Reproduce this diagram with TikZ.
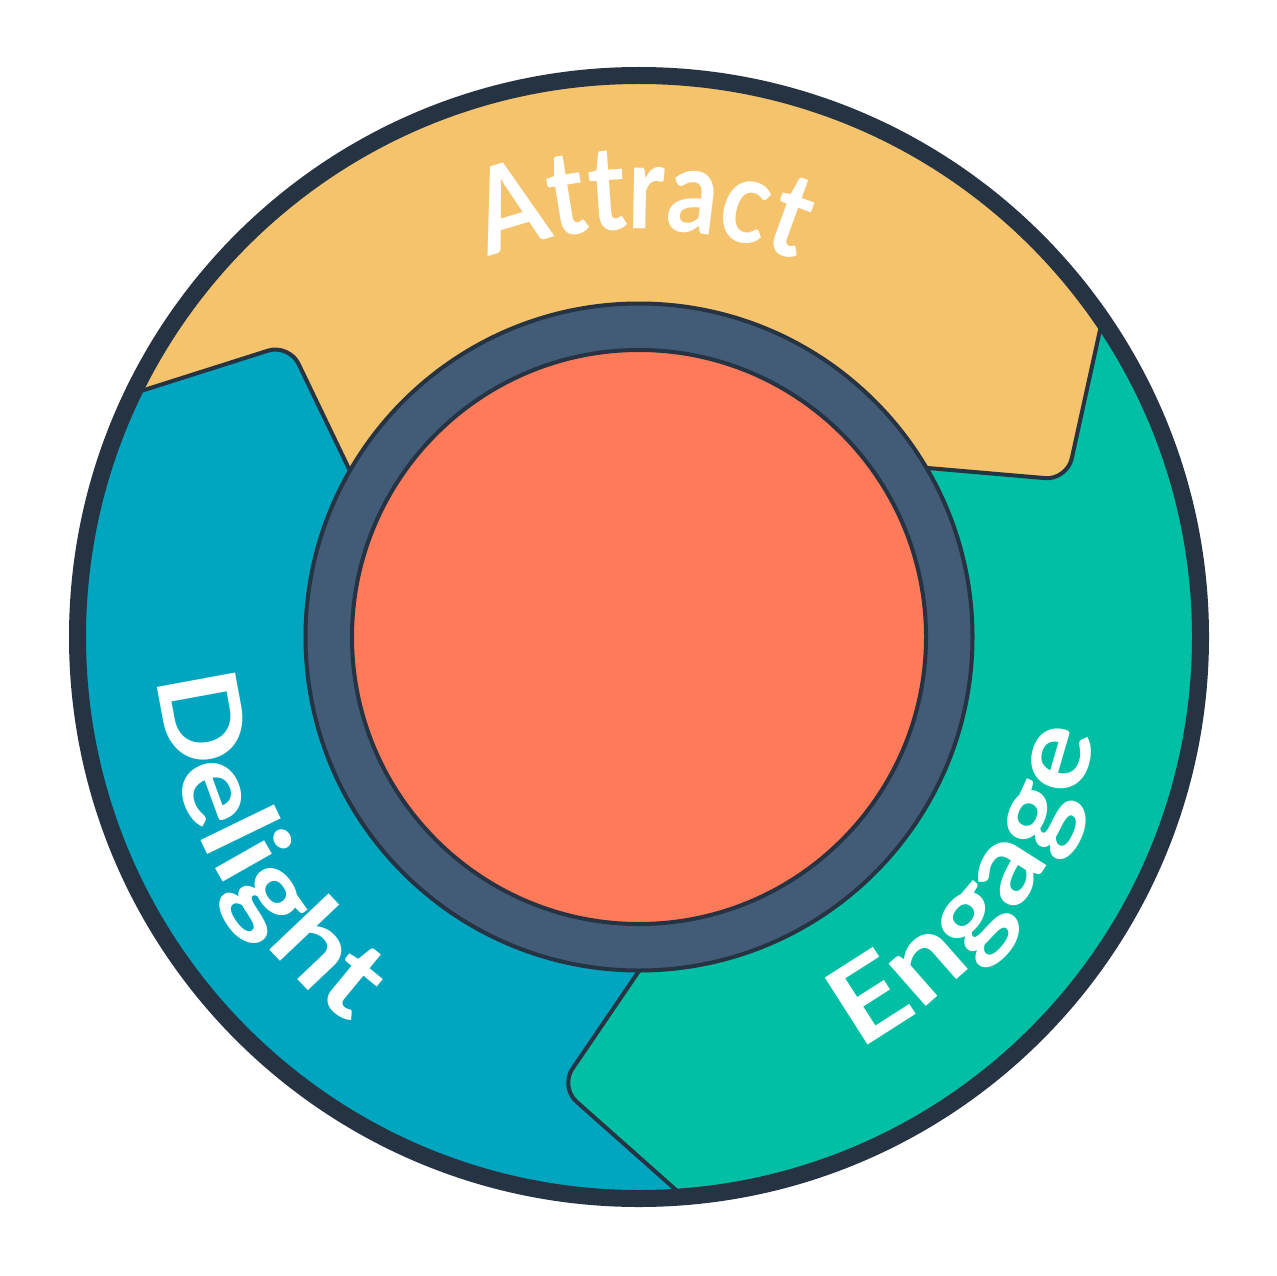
\documentclass[tikz,border=0pt]{standalone}
\usepackage{fontspec}
\usepackage{xcolor}
\usetikzlibrary{decorations.text}
\newfontfamily\flywheelwide[FakeStretch=1.14]{Lato}
\newfontfamily\flywheelnarrow[FakeStretch=0.84]{Lato}
\newcommand{\flywheeltype}[2]{#1\bfseries\fontsize{#2}{#2}\selectfont\color{white}}
\definecolor{rim}{HTML}{253343}
\definecolor{hub}{HTML}{425B76}
\definecolor{core}{HTML}{FF7A59}
\definecolor{attract}{HTML}{F4C36C}
\definecolor{engage}{HTML}{00BFA5}
\definecolor{delight}{HTML}{00A6BF}

\begin{document}
\begin{tikzpicture}[
    x=1pt, y=-1pt,
    segment/.style={draw=rim, line width=4pt, rounded corners=22pt, line join=round},
    wheeltext/.style 2 args={decorate, decoration={text along path, text align=center, text={|#1|#2}}}
]
\useasboundingbox (0,0) rectangle (1276,1276);
\coordinate (center) at (639,637);

\begin{scope}
\clip (center) circle (555);
\fill[delight] (0,0) rectangle (1276,1276);
\path[segment, fill=engage] (639,637) -- (660,940) -- (560,1087) -- (720,1229) -- (1400,1400) -- (1400,-100) -- (639,-100) -- cycle;
\path[segment, fill=attract] (800,457) -- (1067,480) -- (1111,280) -- (1150,-100) -- (100,-100) -- (100,404) -- (289,344) -- (400,575) -- cycle;
\end{scope}

\draw[rim, line width=17pt] (center) circle (561.5);
\draw[rim, line width=4pt, fill=hub] (center) circle (333.5);
\draw[rim, line width=4pt, fill=core] (center) circle (287);

\path[wheeltext={\flywheeltype{\flywheelnarrow}{118}}{Attract}] (center) ++(225.5:408) arc (225.5:315.5:408);
\path[wheeltext={\flywheeltype{\flywheelwide}{110}}{Engage}] (center) ++(82:467) arc (82:-8:467);
\path[wheeltext={\flywheeltype{\flywheelwide}{110}}{Delight}] (center) ++(196:483) arc (196:106:483);

\end{tikzpicture}
\end{document}
